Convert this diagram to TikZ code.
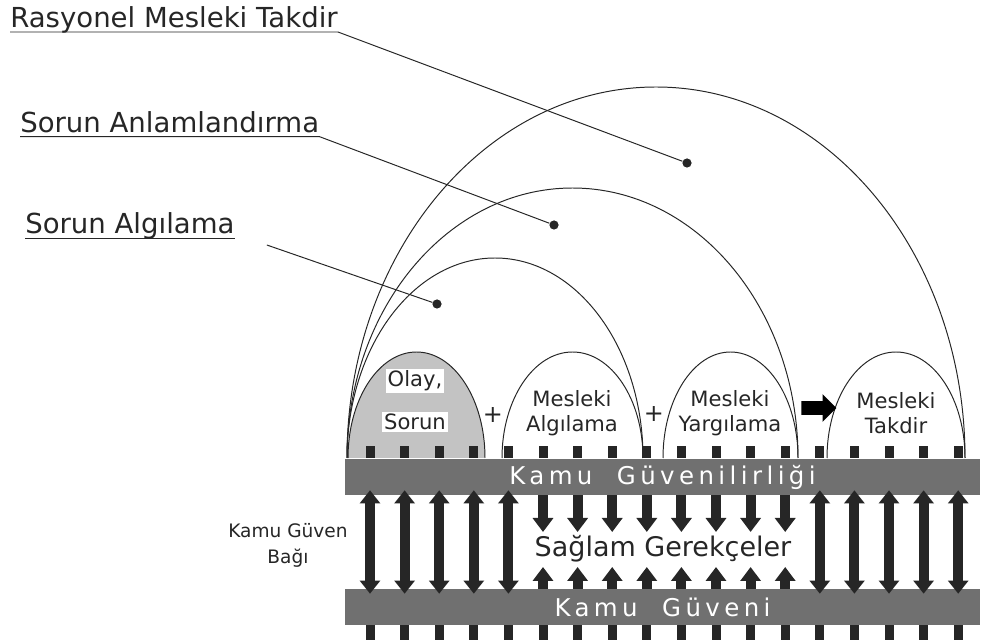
\documentclass[tikz,border=0pt]{standalone}
\usepackage{fontspec}
\setmainfont{DejaVu Sans}
\newfontfamily\widefont[LetterSpace=18]{DejaVu Sans}
\usetikzlibrary{arrows.meta,shapes.arrows}
\definecolor{bargray}{RGB}{112,112,112}
\definecolor{olaygray}{RGB}{195,195,195}
\definecolor{ink}{RGB}{38,38,38}
\begin{document}
\begin{tikzpicture}[x=0.25mm, y=0.25mm,
  ttl/.style={anchor=base west, inner xsep=0pt, text=ink, font=\fontsize{19.6}{24}\selectfont},
  pt/.style={circle, fill=ink, inner sep=0pt, minimum size=2.3mm},
  ln/.style={ink, line width=0.7pt},
  arch/.style={ink, line width=0.7pt},
  box/.style={align=center, text=ink, inner sep=1.5pt, font=\fontsize{15}{17.8}\selectfont},
  bar/.style={rectangle, fill=bargray, minimum width=158.75mm, minimum height=9mm, inner sep=0pt, text=white, font=\widefont\fontsize{17.4}{20}\selectfont},
  dbl/.style={ink, line width=2.5mm, shorten <=-1.25mm, shorten >=-1.25mm, {Triangle[width=5mm,length=3.3mm]}-{Triangle[width=5mm,length=3.3mm]}},
  sgl/.style={ink, line width=2.5mm, -{Triangle[width=5mm,length=3.5mm]}},
  tie/.style={fill=ink}]
\useasboundingbox (0,0) rectangle (990,643);
% arches
\draw[arch] (347,185) arc[start angle=180, end angle=0, x radius=309, y radius=371];
\draw[arch] (347,185) arc[start angle=180, end angle=0, x radius=225.5, y radius=270];
\draw[arch] (347,185) arc[start angle=180, end angle=0, x radius=148, y radius=200];
\draw[arch, fill=olaygray] (348,185) arc[start angle=180, end angle=0, x radius=68.5, y radius=106];
\draw[arch] (502,185) arc[start angle=180, end angle=0, x radius=70.5, y radius=106];
\draw[arch] (663,185) arc[start angle=180, end angle=0, x radius=67.5, y radius=106];
\draw[arch] (827,185) arc[start angle=180, end angle=0, x radius=69, y radius=106];
\node[box, fill=white] (olay) at (415,262) {Olay,};
\node[box, fill=white] (sorun) at (415,221) {Sorun};
\node[box] (alg) at (572,230) {Mesleki\\Algılama};
\node[box] (yarg) at (730,230) {Mesleki\\Yargılama};
\node[box] (takd) at (896,230) {Mesleki\\Takdir};
\node[box, font=\fontsize{17}{20}\selectfont] (plus1) at (493,228) {+};
\node[box, font=\fontsize{17}{20}\selectfont] (plus2) at (654,229) {+};
\node[single arrow, fill=black, inner sep=0pt, minimum height=8.75mm,
  single arrow head extend=1.75mm] (go) at (815.5,235) {\rule{0pt}{3.25mm}};
% labels
\node[ttl] (ra) at (10,615) {Rasyonel Mesleki Takdir};
\node[ttl] (sa) at (20,510) {Sorun Anlamlandırma};
\node[ttl] (sg) at (25,409) {Sorun Algılama};
\node[pt] (d3) at (687,480) {};
\node[pt] (d2) at (554,418) {};
\node[pt] (d1) at (437,339) {};
\draw[ln] ([yshift=-1mm]ra.base west) -- ([yshift=-1mm]ra.base east) -- (d3);
\draw[ln] ([yshift=-0.9mm]sa.base west) -- ([yshift=-0.9mm]sa.base east) -- (d2);
\draw[ln] ([yshift=-1mm]sg.base west) -- ([yshift=-1mm]sg.base east);
\draw[ln] ([xshift=8mm,yshift=-2.75mm]sg.base east) -- (d1);
% rails
\node[bar] (kg) at (662.5,166) {Kamu\quad Güvenilirliği};
\node[bar] (gv) at (662.5,36) {Kamu\quad Güveni};
\node[text=ink, font=\fontsize{19.2}{22}\selectfont] (gerek) at (663,94) {Sağlam Gerekçeler};
\node[text=ink, align=center, font=\fontsize{13.2}{18.5}\selectfont] (bag) at (288,98) {Kamu Güven\\Bağı};
\foreach \i [evaluate=\i as \xx using 370+34.6*\i] in {0,...,17} {
  \fill[tie] (\xx-4.5,185) rectangle ++(9,12);
  \fill[tie] (\xx-4.5,3) rectangle ++(9,15);
}
\foreach \i [evaluate=\i as \xx using 370+34.6*\i] in {0,1,2,3,4,13,14,15,16,17}
  \draw[dbl] (\xx,0 |- gv.north) -- (\xx,0 |- kg.south);
\foreach \i [evaluate=\i as \xx using 370+34.6*\i] in {5,...,12} {
  \coordinate (dn\i) at (\xx,111);
  \coordinate (up\i) at (\xx,76);
  \draw[sgl] (\xx,0 |- kg.south) -- (dn\i);
  \draw[sgl] (\xx,0 |- gv.north) -- (up\i);
}
\end{tikzpicture}
\end{document}
